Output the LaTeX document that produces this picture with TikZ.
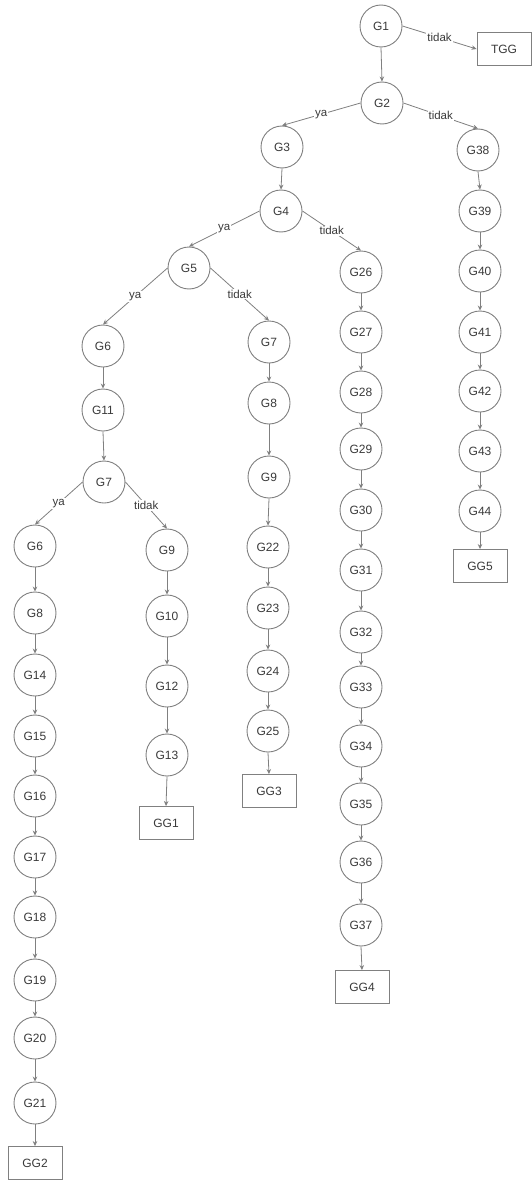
\documentclass[tikz,border=0pt]{standalone}
\usepackage{fontspec}
\setmainfont{Liberation Sans}
\usetikzlibrary{arrows.meta}
\definecolor{ln}{HTML}{808080}
\definecolor{tx}{HTML}{3A3A3A}
\tikzset{
 st/.style={circle, draw=ln, line width=0.9pt, minimum size=42pt, inner sep=0pt, text=tx, font=\fontsize{12}{14}\selectfont, fill=white},
 gg/.style={rectangle, draw=ln, line width=0.9pt, minimum width=54pt, minimum height=33pt, inner sep=0pt, text=tx, font=\fontsize{12}{14}\selectfont, fill=white},
 ar/.style={draw=ln, line width=0.8pt, -{Stealth[length=5pt,width=4.5pt]}},
 lb/.style={fill=white, inner sep=1pt, text=tx, font=\fontsize{11.5}{13}\selectfont}
}
\begin{document}
\begin{tikzpicture}[x=1pt,y=-1pt]
\useasboundingbox[fill=white] (0,0) rectangle (532,1180);
% top
\node[st] (G1) at (381,26) {G1};
\node[gg] (TGG) at (504,49) {TGG};
\node[st] (G2) at (382,103) {G2};
\node[st] (G3) at (282,147) {G3};
\node[st] (G38) at (478,150) {G38};
\node[st] (G4) at (281,211) {G4};
% right column
\node[st] (G39) at (480,211) {G39};
\node[st] (G40) at (480,271) {G40};
\node[st] (G41) at (480,332) {G41};
\node[st] (G42) at (480,391) {G42};
\node[st] (G43) at (480,451) {G43};
\node[st] (G44) at (480,511) {G44};
\node[gg] (GG5) at (480,566) {GG5};
% G5 subtree
\node[st] (G5) at (189,268) {G5};
\node[st] (G6a) at (103,346) {G6};
\node[st] (G11) at (103,410) {G11};
\node[st] (G7a) at (104,482) {G7};
\node[st] (G6c) at (35,546) {G6};
\node[st] (G8c) at (35,613) {G8};
\node[st] (G14) at (35,675) {G14};
\node[st] (G15) at (35,736) {G15};
\node[st] (G16) at (35,796) {G16};
\node[st] (G17) at (35,857) {G17};
\node[st] (G18) at (35,917) {G18};
\node[st] (G19) at (35,980) {G19};
\node[st] (G20) at (35,1038) {G20};
\node[st] (G21) at (35,1103) {G21};
\node[gg] (GG2) at (35,1163) {GG2};
\node[st] (G9c) at (167,550) {G9};
\node[st] (G10) at (167,616) {G10};
\node[st] (G12) at (167,686) {G12};
\node[st] (G13) at (167,755) {G13};
\node[gg] (GG1) at (166,823) {GG1};
% G7 middle column
\node[st] (G7b) at (269,342) {G7};
\node[st] (G8b) at (269,403) {G8};
\node[st] (G9b) at (269,477) {G9};
\node[st] (G22) at (268,547) {G22};
\node[st] (G23) at (268,608) {G23};
\node[st] (G24) at (268,671) {G24};
\node[st] (G25) at (268,731) {G25};
\node[gg] (GG3) at (269,791) {GG3};
% G26 column
\node[st] (G26) at (361,272) {G26};
\node[st] (G27) at (361,332) {G27};
\node[st] (G28) at (361,392) {G28};
\node[st] (G29) at (361,449) {G29};
\node[st] (G30) at (361,510) {G30};
\node[st] (G31) at (361,570) {G31};
\node[st] (G32) at (361,632) {G32};
\node[st] (G33) at (361,687) {G33};
\node[st] (G34) at (361,746) {G34};
\node[st] (G35) at (361,804) {G35};
\node[st] (G36) at (361,862) {G36};
\node[st] (G37) at (361,925) {G37};
\node[gg] (GG4) at (362,987) {GG4};
% branch edges
\draw[ar] (G1.east) -- node[lb]{tidak} (TGG.west);
\draw[ar] (G2.west) -- node[lb]{ya} (G3.north);
\draw[ar] (G2.east) -- node[lb]{tidak} (G38.north);
\draw[ar] (G4.west) -- node[lb]{ya} (G5.north);
\draw[ar] (G4.east) -- node[lb]{tidak} (G26.north);
\draw[ar] (G5.west) -- node[lb]{ya} (G6a.north);
\draw[ar] (G5.east) -- node[lb]{tidak} (G7b.north);
\draw[ar] (G7a.west) -- node[lb]{ya} (G6c.north);
\draw[ar] (G7a.east) -- node[lb]{tidak} (G9c.north);
% vertical edges
\foreach \a/\b in {G1/G2,G3/G4,G38/G39,G39/G40,G40/G41,G41/G42,G42/G43,G43/G44,G44/GG5,
  G6a/G11,G11/G7a,G6c/G8c,G8c/G14,G14/G15,G15/G16,G16/G17,G17/G18,G18/G19,G19/G20,G20/G21,G21/GG2,
  G9c/G10,G10/G12,G12/G13,G13/GG1,
  G7b/G8b,G8b/G9b,G9b/G22,G22/G23,G23/G24,G24/G25,G25/GG3,
  G26/G27,G27/G28,G28/G29,G29/G30,G30/G31,G31/G32,G32/G33,G33/G34,G34/G35,G35/G36,G36/G37,G37/GG4}
  \draw[ar] (\a.south) -- (\b.north);
\end{tikzpicture}
\end{document}
